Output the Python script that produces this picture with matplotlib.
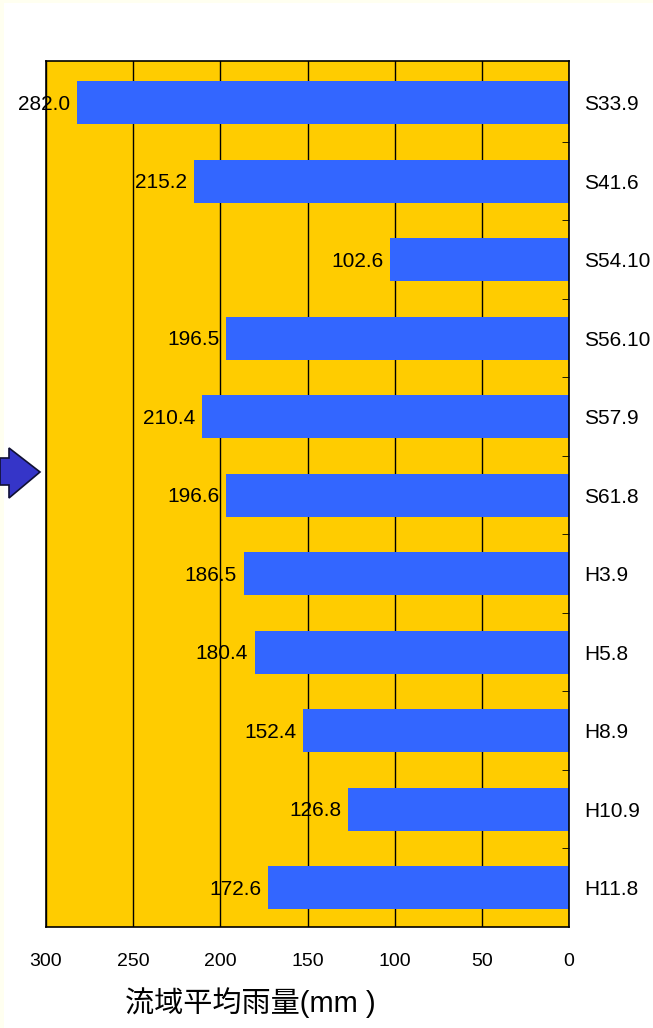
import matplotlib
matplotlib.use("Agg")
import matplotlib.pyplot as plt
from matplotlib.patches import Polygon, Rectangle
from matplotlib.ticker import FixedLocator

plt.rcParams['font.family'] = ['Liberation Sans', 'Noto Sans CJK JP', 'DejaVu Sans']

# data
events = ["S33.9", "S41.6", "S54.10", "S56.10", "S57.9", "S61.8",
          "H3.9", "H5.8", "H8.9", "H10.9", "H11.8"]
rain = [282.0, 215.2, 102.6, 196.5, 210.4, 196.6, 186.5, 180.4, 152.4, 126.8, 172.6]
x_ticks = [300, 250, 200, 150, 100, 50, 0]

W, H = 653, 1028
fig = plt.figure(figsize=(W / 100, H / 100), dpi=100)
fig.patch.set_facecolor("#FFFFF0")
fig.patches.append(Rectangle((4 / W, 0), 1, 1 - 3 / H, transform=fig.transFigure,
                             facecolor="white", edgecolor="none", zorder=-5))

ax = fig.add_axes([46 / W, 1 - 927 / H, (569 - 46) / W, (927 - 61) / H])
ax.set_zorder(2)
ax.set_facecolor("#FFCC00")

y = list(range(len(events)))
ax.barh(y, rain, height=0.55, color="#3366FF", zorder=3)
ax.set_xlim(300, 0)
ax.set_ylim(len(events) - 0.5, -0.53)

for yi, v in zip(y, rain):
    ax.annotate(f"{v:.1f}", xy=(v, yi), xytext=(-5, -1.2), textcoords="offset points",
                ha="right", va="center", fontsize=15, zorder=4)

ax.xaxis.set_major_locator(FixedLocator(x_ticks))
ax.set_xticklabels([str(t) for t in x_ticks], fontsize=14)
ax.tick_params(axis="x", length=0, pad=19)
ax.grid(axis="x", color="black", linewidth=1, zorder=1)

ax.yaxis.tick_right()
ax.set_yticks(y)
ax.set_yticklabels(events, fontsize=15)
ax.tick_params(axis="y", which="major", length=0, pad=11)
ax.yaxis.set_minor_locator(FixedLocator([i + 0.5 for i in range(len(events) - 1)]))
ax.tick_params(axis="y", which="minor", direction="in", length=5, right=True, left=False)

for s in ax.spines.values():
    s.set_color("black")
    s.set_linewidth(1.2)
    s.set_zorder(5)

fig.text(250 / W, 1 - 1003 / H, "流域平均雨量(mm )", ha="center", va="center", fontsize=21)

# arrow on the left
pts = [(0, 458), (9, 458), (9, 448), (40, 472), (9, 498), (9, 485), (0, 485)]
arrow = Polygon([(px / W, 1 - py / H) for px, py in pts], closed=True,
                transform=fig.transFigure, facecolor="#3535C8", edgecolor="#111133",
                linewidth=1.2, zorder=3)
fig.patches.append(arrow)

fig.savefig("out.png", dpi=100)
